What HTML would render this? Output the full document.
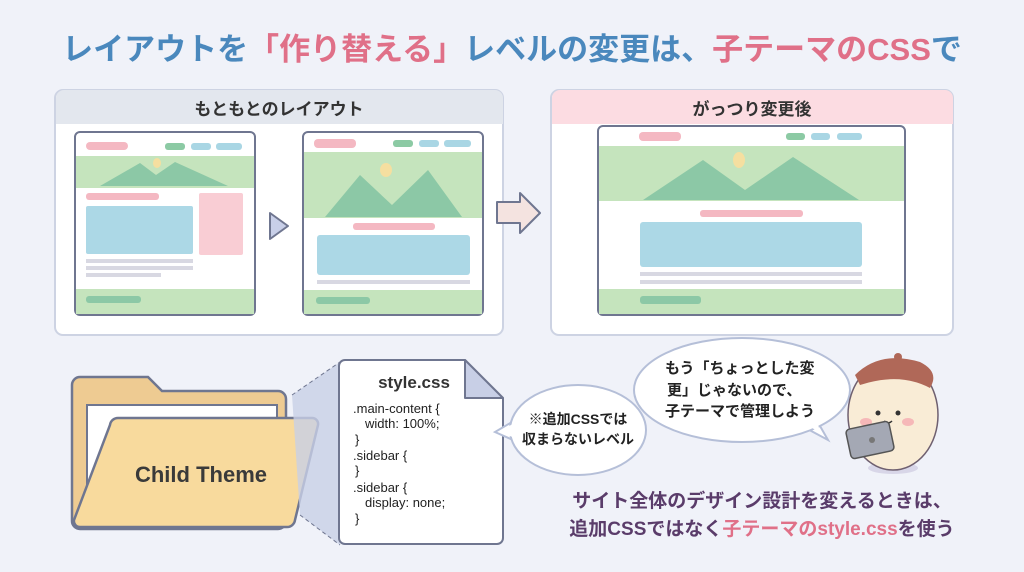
<!DOCTYPE html>
<html><head><meta charset="utf-8"><style>
body{margin:0;width:1024px;height:572px;background:#f0f2f9;overflow:hidden}
svg{display:block}
text{font-family:"Liberation Sans","Noto Sans CJK JP",sans-serif}
</style></head><body>
<svg width="1024" height="572" viewBox="0 0 1024 572">
<text x="512" y="60" text-anchor="middle" font-size="31" font-weight="bold"><tspan fill="#4a88bd">レイアウトを</tspan><tspan fill="#e07088">「作り替える」</tspan><tspan fill="#4a88bd">レベルの変更は、</tspan><tspan fill="#e07088">子テーマのCSS</tspan><tspan fill="#4a88bd">で</tspan></text>

<!-- left panel -->
<rect x="55" y="90" width="448" height="245" rx="8" fill="#fff" stroke="#cdd3e3" stroke-width="2"/>
<path d="M56 124V98a8 8 0 0 1 8-8h431a8 8 0 0 1 8 8v26z" fill="#e3e7ee"/>
<text x="279" y="115" text-anchor="middle" font-size="17" font-weight="bold" fill="#333">もともとのレイアウト</text>
<!-- mock1 -->
<g>
<rect x="75" y="132" width="180" height="183" rx="5" fill="#fff" stroke="#6f7690" stroke-width="2"/>
<rect x="86" y="142" width="42" height="8" rx="4" fill="#f4b8c2"/>
<rect x="165" y="143" width="20" height="7" rx="3" fill="#8ccaa4"/><rect x="191" y="143" width="20" height="7" rx="3" fill="#a9d6e4"/><rect x="216" y="143" width="26" height="7" rx="3" fill="#a9d6e4"/>
<rect x="76" y="156" width="178" height="32" fill="#c5e4bd"/>
<path d="M100 186 L140 163 L156 175 L175 162 L228 186Z" fill="#8cc8a6"/>
<ellipse cx="157" cy="163" rx="4" ry="5" fill="#f5dfa0"/>
<rect x="86" y="193" width="73" height="7" rx="3" fill="#f4b8c2"/>
<rect x="86" y="206" width="107" height="48" rx="2" fill="#acd8e6"/>
<rect x="199" y="193" width="44" height="62" rx="2" fill="#f9cdd4"/>
<rect x="86" y="259" width="107" height="4" fill="#d8d8e2"/><rect x="86" y="266" width="107" height="4" fill="#d8d8e2"/><rect x="86" y="273" width="75" height="4" fill="#d8d8e2"/>
<rect x="76" y="289" width="178" height="25" fill="#c5e4bd"/>
<rect x="86" y="296" width="55" height="7" rx="3" fill="#8cc8a6"/>
</g>
<path d="M270 213 L288 226 L270 239Z" fill="#c8cfe8" stroke="#6f7690" stroke-width="2" stroke-linejoin="round"/>
<!-- mock2 -->
<g>
<rect x="303" y="132" width="180" height="183" rx="5" fill="#fff" stroke="#6f7690" stroke-width="2"/>
<rect x="314" y="139" width="42" height="9" rx="4" fill="#f4b8c2"/>
<rect x="393" y="140" width="20" height="7" rx="3" fill="#8ccaa4"/><rect x="419" y="140" width="20" height="7" rx="3" fill="#a9d6e4"/><rect x="444" y="140" width="27" height="7" rx="3" fill="#a9d6e4"/>
<rect x="304" y="152" width="178" height="66" fill="#c5e4bd"/>
<path d="M325 217 L360 175 L392 205 L428 170 L462 217Z" fill="#8cc8a6"/>
<ellipse cx="386" cy="170" rx="6" ry="7" fill="#f5dfa0"/>
<rect x="353" y="223" width="82" height="7" rx="3" fill="#f4b8c2"/>
<rect x="317" y="235" width="153" height="40" rx="3" fill="#acd8e6"/>
<rect x="317" y="280" width="153" height="4" fill="#d8d8e2"/>
<rect x="304" y="290" width="178" height="24" fill="#c5e4bd"/>
<rect x="316" y="297" width="54" height="7" rx="3" fill="#8cc8a6"/>
</g>
<!-- big arrow -->
<path d="M497 202 H520 V193 L540 213 L520 233 V223 H497Z" fill="#f4e3e0" stroke="#6f7690" stroke-width="2" stroke-linejoin="round"/>

<!-- right panel -->
<rect x="551" y="90" width="402" height="245" rx="8" fill="#fff" stroke="#cdd3e3" stroke-width="2"/>
<path d="M552 124V98a8 8 0 0 1 8-8h385a8 8 0 0 1 8 8v26z" fill="#fcdce2"/>
<text x="752" y="115" text-anchor="middle" font-size="17" font-weight="bold" fill="#333">がっつり変更後</text>
<g>
<rect x="598" y="126" width="307" height="189" rx="5" fill="#fff" stroke="#6f7690" stroke-width="2"/>
<rect x="639" y="132" width="42" height="9" rx="4" fill="#f4b8c2"/>
<rect x="786" y="133" width="19" height="7" rx="3" fill="#8ccaa4"/><rect x="811" y="133" width="19" height="7" rx="3" fill="#a9d6e4"/><rect x="837" y="133" width="25" height="7" rx="3" fill="#a9d6e4"/>
<rect x="599" y="146" width="305" height="55" fill="#c5e4bd"/>
<path d="M643 200 L703 160 L745 190 L793 157 L859 200Z" fill="#8cc8a6"/>
<ellipse cx="739" cy="160" rx="6" ry="8" fill="#f5dfa0"/>
<rect x="700" y="210" width="103" height="7" rx="3" fill="#f4b8c2"/>
<rect x="640" y="222" width="222" height="45" rx="3" fill="#acd8e6"/>
<rect x="640" y="272" width="222" height="4" fill="#d8d8e2"/><rect x="640" y="280" width="222" height="4" fill="#d8d8e2"/>
<rect x="599" y="289" width="305" height="25" fill="#c5e4bd"/>
<rect x="640" y="296" width="61" height="8" rx="3" fill="#8cc8a6"/>
</g>

<!-- folder -->
<path d="M72 385 a8 8 0 0 1 8-8 h68 l14 14 h116 a8 8 0 0 1 8 8 v122 a8 8 0 0 1-8 8 H80 a8 8 0 0 1-8-8z" fill="#eecb92" stroke="#6f7690" stroke-width="2.5"/>
<rect x="87" y="405" width="190" height="110" fill="#fff" stroke="#6f7690" stroke-width="2"/>
<path d="M110 425 a8 8 0 0 1 8-7 H312 a6 6 0 0 1 6 7 L295 520 a8 8 0 0 1-8 7 H80 a6 6 0 0 1-6-7z" fill="#f8da9d" stroke="#6f7690" stroke-width="2.5"/>
<text x="201" y="482" text-anchor="middle" font-size="22" font-weight="bold" fill="#3a3a3a">Child Theme</text>
<!-- projection -->
<path d="M292 395 L340 362 L340 545 L300 515Z" fill="#c8cfe6" opacity="0.8"/>
<line x1="292" y1="395" x2="340" y2="362" stroke="#6f7690" stroke-dasharray="4 3"/>
<line x1="300" y1="515" x2="340" y2="545" stroke="#6f7690" stroke-dasharray="4 3"/>
<!-- doc -->
<path d="M345 360 H465 L503 398 V538 a6 6 0 0 1-6 6 H345 a6 6 0 0 1-6-6 V366 a6 6 0 0 1 6-6z" fill="#fff" stroke="#6f7690" stroke-width="2"/>
<path d="M465 360 V398 H503Z" fill="#c8cfe6" stroke="#6f7690" stroke-width="2" stroke-linejoin="round"/>
<text x="414" y="388" text-anchor="middle" font-size="17" font-weight="bold" fill="#333">style.css</text>
<g font-size="13" fill="#222">
<text x="353" y="413">.main-content {</text>
<text x="365" y="428">width: 100%;</text>
<text x="355" y="444">}</text>
<text x="353" y="460">.sidebar {</text>
<text x="355" y="475">}</text>
<text x="353" y="492">.sidebar {</text>
<text x="365" y="507">display: none;</text>
<text x="355" y="523">}</text>
</g>
<!-- small bubble -->
<path d="M512 422 L495 432 L513 440Z" fill="#fff" stroke="#b5bfd8" stroke-width="2"/>
<ellipse cx="578" cy="430" rx="68" ry="45" fill="#fff" stroke="#b5bfd8" stroke-width="2"/>
<path d="M514 423 L500 432 L515 438" fill="#fff"/>
<text x="578" y="424" text-anchor="middle" font-size="14" font-weight="bold" fill="#222">※追加CSSでは</text>
<text x="578" y="444" text-anchor="middle" font-size="14" font-weight="bold" fill="#222">収まらないレベル</text>
<!-- big bubble -->
<path d="M800 425 L828 440 L812 412Z" fill="#fff" stroke="#b5bfd8" stroke-width="2"/>
<ellipse cx="742" cy="390" rx="108" ry="52" fill="#fff" stroke="#b5bfd8" stroke-width="2"/>
<path d="M800 420 L820 433 L815 410Z" fill="#fff"/>
<g font-size="15" font-weight="bold" fill="#222">
<text x="665" y="373">もう「ちょっとした変</text>
<text x="667" y="395">更」じゃないので、</text>
<text x="665" y="416">子テーマで管理しよう</text>
</g>
<!-- character -->
<ellipse cx="893" cy="468" rx="25" ry="6" fill="#d8d6e8"/>
<ellipse cx="893" cy="415" rx="45" ry="55" fill="#f9ecd6" stroke="#6f6070" stroke-width="1.5"/>
<path d="M855 375 Q880 350 920 362 Q940 372 930 388 Q900 372 860 385Z" fill="#b06858"/>
<circle cx="898" cy="357" r="4" fill="#b06858"/>
<circle cx="878" cy="413" r="2.5" fill="#333"/><circle cx="898" cy="413" r="2.5" fill="#333"/>
<path d="M884 421 q4 4 8 0" stroke="#333" stroke-width="1.5" fill="none"/>
<ellipse cx="866" cy="422" rx="6" ry="4" fill="#f6b8b8"/><ellipse cx="908" cy="422" rx="6" ry="4" fill="#f6b8b8"/>
<rect x="848" y="425" width="44" height="30" rx="4" fill="#a4a8b4" stroke="#555" stroke-width="1.5" transform="rotate(-12 870 440)"/>
<circle cx="872" cy="440" r="3" fill="#777"/>
<!-- bottom text -->
<text x="762" y="507" text-anchor="middle" font-size="19" font-weight="bold" fill="#5a3c6a">サイト全体のデザイン設計を変えるときは、</text>
<text x="762" y="535" text-anchor="middle" font-size="19" font-weight="bold" fill="#5a3c6a">追加CSSではなく<tspan fill="#e07088">子テーマのstyle.css</tspan>を使う</text>
</svg>
</body></html>
